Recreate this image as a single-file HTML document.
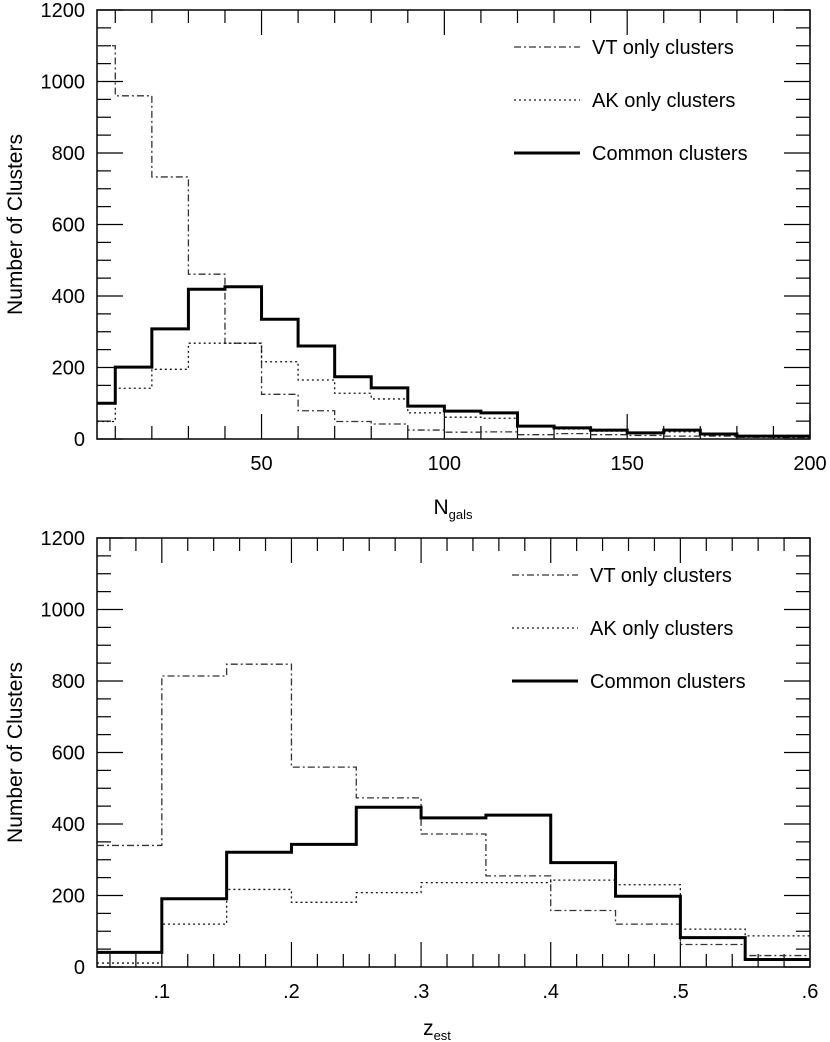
<!DOCTYPE html>
<html><head><meta charset="utf-8"><style>
html,body{margin:0;padding:0;background:#fff;}
svg{display:block;font-family:"Liberation Sans",Arial,sans-serif;}
</style></head><body>
<svg id="chart" width="830" height="1042" viewBox="0 0 830 1042"></svg>
<script>
const ngalEdges = [5,10,20,30,40,50,60,70,80,90,100,110,120,130,140,150,160,170,180,190,200];
const ngalVT = [1100,960,733,461,268,125,79,49,42,25,19,20,12,15,12,10,8,8,5,4];
const ngalAK = [49,142,195,268,268,216,165,128,112,73,61,58,35,28,22,18,20,12,6,5];
const ngalCommon = [100,201,308,419,426,335,260,174,143,92,78,73,36,31,25,17,25,14,8,8];
const ngalTicks = [50,100,150,200];
const ngalTickLabels = ["50","100","150","200"];

const zEdges = [0.05,0.1,0.15,0.2,0.25,0.3,0.35,0.4,0.45,0.5,0.55,0.6];
const zVT = [340,814,847,559,473,372,255,158,120,63,32];
const zAK = [11,120,217,181,208,236,236,243,230,106,87];
const zCommon = [41,191,321,343,447,417,425,292,198,82,21];
const zTicks = [0.1,0.2,0.3,0.4,0.5,0.6];
const zTickLabels = [".1",".2",".3",".4",".5",".6"];

const yTicks = [0,200,400,600,800,1000,1200];
const yTickLabels = ["0","200","400","600","800","1000","1200"];

const NS = "http://www.w3.org/2000/svg";
const svg = document.getElementById('chart');
function mk(tag, attrs, parent){
  const e = document.createElementNS(NS, tag);
  for (const k in attrs) e.setAttribute(k, attrs[k]);
  (parent||svg).appendChild(e);
  return e;
}
const styles = {
  vt:{stroke:"#333",w:1.3,dash:"7,3,2,3"},
  ak:{stroke:"#111",w:1.3,dash:"2,3"},
  common:{stroke:"#000",w:3,dash:""}
};

function panel(cfg){
  const {L,R,T,B,xmin,xmax,name} = cfg;
  const g = mk('g',{});
  
  
  const sx = v => L + (v - xmin) * (R - L) / (xmax - xmin);
  const sy = v => B - v * (B - T) / 1200;
  const fr = mk('rect',{x:L,y:T,width:R-L,height:B-T,fill:"none",stroke:"#000","stroke-width":1.5},g);
  
  
  for (let v=0; v<=1200; v+=50){
    const major = v % 200 === 0;
    const len = major ? 26 : 14;
    mk('line',{x1:L,x2:L+len,y1:sy(v),y2:sy(v),stroke:"#000","stroke-width":1.2},g);
    mk('line',{x1:R,x2:R-len,y1:sy(v),y2:sy(v),stroke:"#000","stroke-width":1.2},g);
  }
  yTicks.forEach((v,i)=>{
    const t = mk('text',{x:L-12,y:sy(v)+7,"text-anchor":"end","font-size":20},g);
    t.textContent = yTickLabels[i];
    
    
  });
  cfg.minor.forEach(v=>{
    mk('line',{x1:sx(v),x2:sx(v),y1:B,y2:B-13,stroke:"#000","stroke-width":1.2},g);
    mk('line',{x1:sx(v),x2:sx(v),y1:T,y2:T+13,stroke:"#000","stroke-width":1.2},g);
  });
  cfg.ticks.forEach((v,i)=>{
    mk('line',{x1:sx(v),x2:sx(v),y1:B,y2:B-25,stroke:"#000","stroke-width":1.2},g);
    mk('line',{x1:sx(v),x2:sx(v),y1:T,y2:T+25,stroke:"#000","stroke-width":1.2},g);
    const t = mk('text',{x:sx(v),y:B+31,"text-anchor":"middle","font-size":20},g);
    t.textContent = cfg.tickLabels[i];
    
    
  });
  [['vt',cfg.vt],['ak',cfg.ak],['common',cfg.common]].forEach(([k,vals])=>{
    let d = "";
    vals.forEach((v,i)=>{
      const x0 = sx(cfg.edges[i]), x1 = sx(cfg.edges[i+1]), y = sy(v);
      d += (i===0 ? "M"+x0+","+y : "L"+x0+","+y) + "L"+x1+","+y;
    });
    const s = styles[k];
    const p = mk('path',{d:d,fill:"none",stroke:s.stroke,"stroke-width":s.w,"stroke-dasharray":s.dash},g);
    
    
  });
  const labels = [['vt','VT only clusters'],['ak','AK only clusters'],['common','Common clusters']];
  labels.forEach(([k,txt],i)=>{
    const y = cfg.legY + i*53;
    const s = styles[k];
    const ln = mk('line',{x1:cfg.legX,x2:cfg.legX+66,y1:y,y2:y,stroke:s.stroke,"stroke-width":s.w,"stroke-dasharray":s.dash},g);
    
    
    const t = mk('text',{x:cfg.legX+78,y:y+7,"font-size":20},g);
    t.textContent = txt;
    
    
  });
  const yt = mk('text',{x:0,y:0,"text-anchor":"middle","font-size":21,transform:"translate(22,"+((T+B)/2)+") rotate(-90)"},g);
  yt.textContent = "Number of Clusters";
  
  
  const xt = mk('text',{x:cfg.xtX,y:B+cfg.xtDy,"text-anchor":"middle","font-size":21},g);
  xt.innerHTML = cfg.xtitle;
  
  
}

const ngMinor = []; for (let v=10; v<200; v+=10) if (v%50) ngMinor.push(v);
const zMinor = []; for (let v=6; v<60; v+=2) if (v%10) zMinor.push(v/100);

panel({name:"ngals-panel",L:97,R:810,T:10,B:439,xmin:5,xmax:200,edges:ngalEdges,vt:ngalVT,ak:ngalAK,common:ngalCommon,
  ticks:ngalTicks,tickLabels:ngalTickLabels,minor:ngMinor,legX:514,legY:47,xtDy:75,
  xtX:453,xtitle:'N<tspan font-size="13" dy="5">gals</tspan>'});
panel({name:"zest-panel",L:97,R:810,T:538,B:967,xmin:0.05,xmax:0.6,edges:zEdges,vt:zVT,ak:zAK,common:zCommon,
  ticks:zTicks,tickLabels:zTickLabels,minor:zMinor,legX:512,legY:575,xtDy:68,
  xtX:437,xtitle:'z<tspan font-size="13" dy="5">est</tspan>'});
</script>
</body></html>
